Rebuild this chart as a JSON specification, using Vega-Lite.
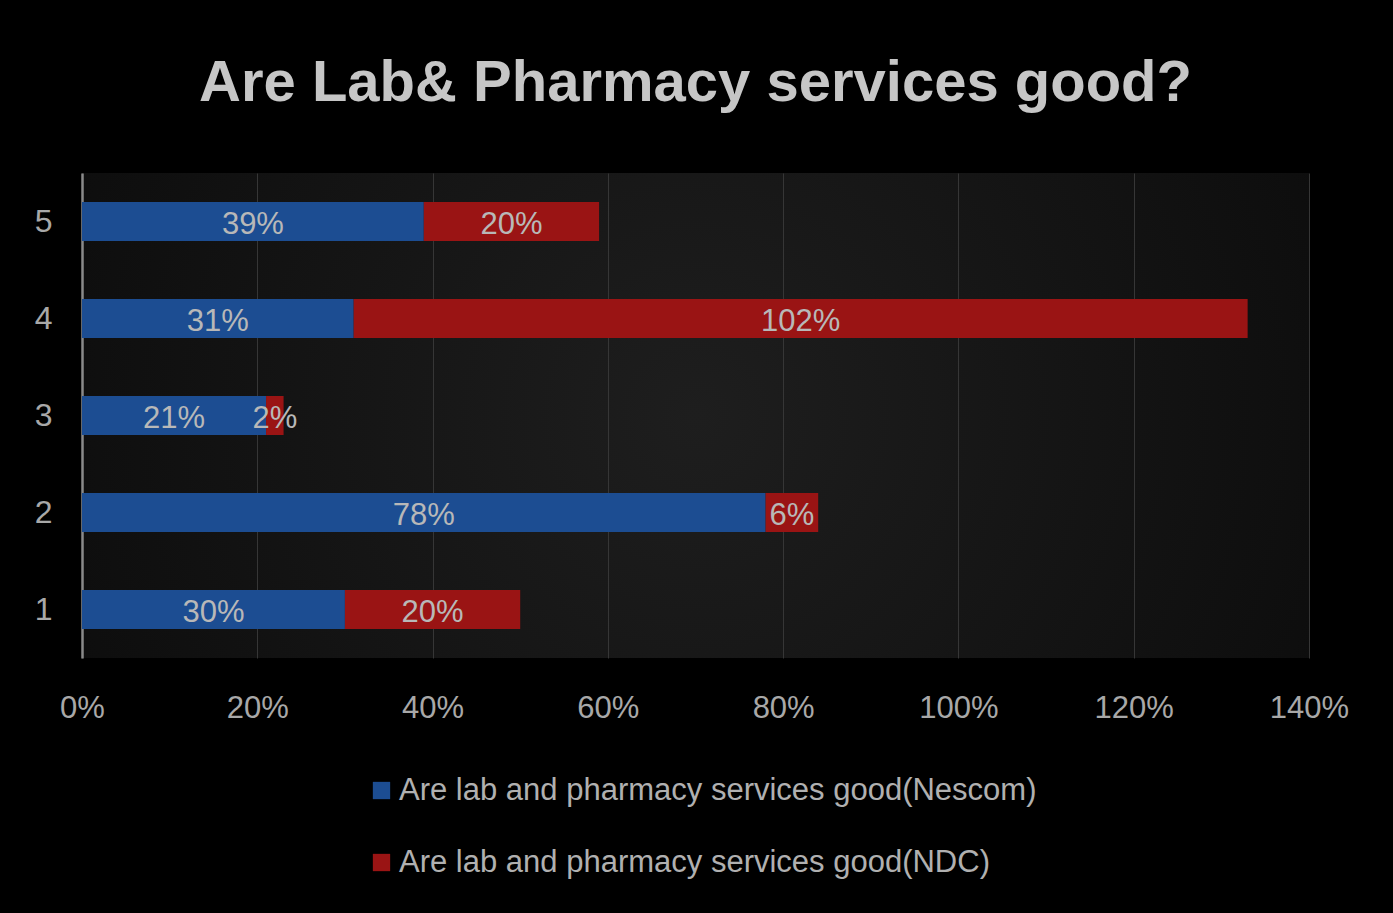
{
  "$schema": "https://vega.github.io/schema/vega-lite/v6.json",
  "width": 1227,
  "height": 485,
  "autosize": {"type": "none"},
  "padding": {"left": 82, "top": 173, "right": 84, "bottom": 255},
  "background": "#000000",
  "view": {"stroke": null, "fill": {"gradient": "radial", "x1": 0.5, "y1": 0.5, "r1": 0, "x2": 0.5, "y2": 0.5, "r2": 0.75, "stops": [{"offset": 0, "color": "#1e1e1e"}, {"offset": 1, "color": "#070707"}]}},
  "title": {"text": "Are Lab& Pharmacy services good?", "font": "Liberation Sans", "fontWeight": "bold", "fontSize": 58, "color": "#c6c6c6", "offset": 60, "anchor": "middle"},
  "data": {"values": [
    {"cat": "5", "series": "Are lab and pharmacy services good(Nescom)", "value": 0.39},
    {"cat": "5", "series": "Are lab and pharmacy services good(NDC)", "value": 0.20},
    {"cat": "4", "series": "Are lab and pharmacy services good(Nescom)", "value": 0.31},
    {"cat": "4", "series": "Are lab and pharmacy services good(NDC)", "value": 1.02},
    {"cat": "3", "series": "Are lab and pharmacy services good(Nescom)", "value": 0.21},
    {"cat": "3", "series": "Are lab and pharmacy services good(NDC)", "value": 0.02},
    {"cat": "2", "series": "Are lab and pharmacy services good(Nescom)", "value": 0.78},
    {"cat": "2", "series": "Are lab and pharmacy services good(NDC)", "value": 0.06},
    {"cat": "1", "series": "Are lab and pharmacy services good(Nescom)", "value": 0.30},
    {"cat": "1", "series": "Are lab and pharmacy services good(NDC)", "value": 0.20}
  ]},
  "transform": [
    {"stack": "value", "groupby": ["cat"], "sort": [{"field": "series", "order": "descending"}], "as": ["x0", "x1"]}
  ],
  "layer": [
    {
      "mark": {"type": "bar"},
      "encoding": {
        "y": {"field": "cat", "type": "nominal", "sort": "descending",
              "scale": {"paddingInner": 0.6, "paddingOuter": 0.3},
              "axis": {"title": null, "ticks": false, "grid": false, "domainColor": "#8a8a8a", "domainWidth": 2.5, "labelFontSize": 32, "labelColor": "#a8a8a8", "labelPadding": 30, "labelFont": "Liberation Sans"}},
        "x": {"field": "x0", "type": "quantitative",
              "scale": {"domain": [0, 1.4], "nice": false},
              "axis": {"title": null, "format": ".0%", "values": [0, 0.2, 0.4, 0.6, 0.8, 1.0, 1.2, 1.4], "grid": true, "gridColor": "#363636", "gridWidth": 1, "domain": false, "ticks": false, "labelPadding": 35, "labelFontSize": 31, "labelColor": "#a8a8a8", "labelFlush": false, "labelBound": false, "labelOverlap": false, "labelFont": "Liberation Sans"}},
        "x2": {"field": "x1"},
        "color": {"field": "series", "type": "nominal",
                  "scale": {"domain": ["Are lab and pharmacy services good(Nescom)", "Are lab and pharmacy services good(NDC)"], "range": ["#1c4d92", "#9a1414"]},
                  "legend": {"orient": "none", "legendX": 284, "legendY": 602, "direction": "vertical", "title": null, "symbolType": "square", "symbolSize": 300, "symbolStrokeWidth": 0, "labelFontSize": 31, "labelColor": "#b0b0b0", "labelFont": "Liberation Sans", "rowPadding": 40, "labelOffset": 2, "labelLimit": 800}}
      }
    },
    {
      "transform": [
        {"fold": ["x0", "x1"], "as": ["k", "pos"]},
        {"aggregate": [{"op": "mean", "field": "pos", "as": "mid"}, {"op": "max", "field": "value", "as": "value"}], "groupby": ["cat", "series"]}
      ],
      "mark": {"type": "text", "fontSize": 31, "color": "#b8b8b8", "font": "Liberation Sans", "dy": 3},
      "encoding": {
        "y": {"field": "cat", "type": "nominal", "sort": "descending"},
        "x": {"field": "mid", "type": "quantitative"},
        "text": {"field": "value", "type": "quantitative", "format": ".0%"}
      }
    }
  ]
}
